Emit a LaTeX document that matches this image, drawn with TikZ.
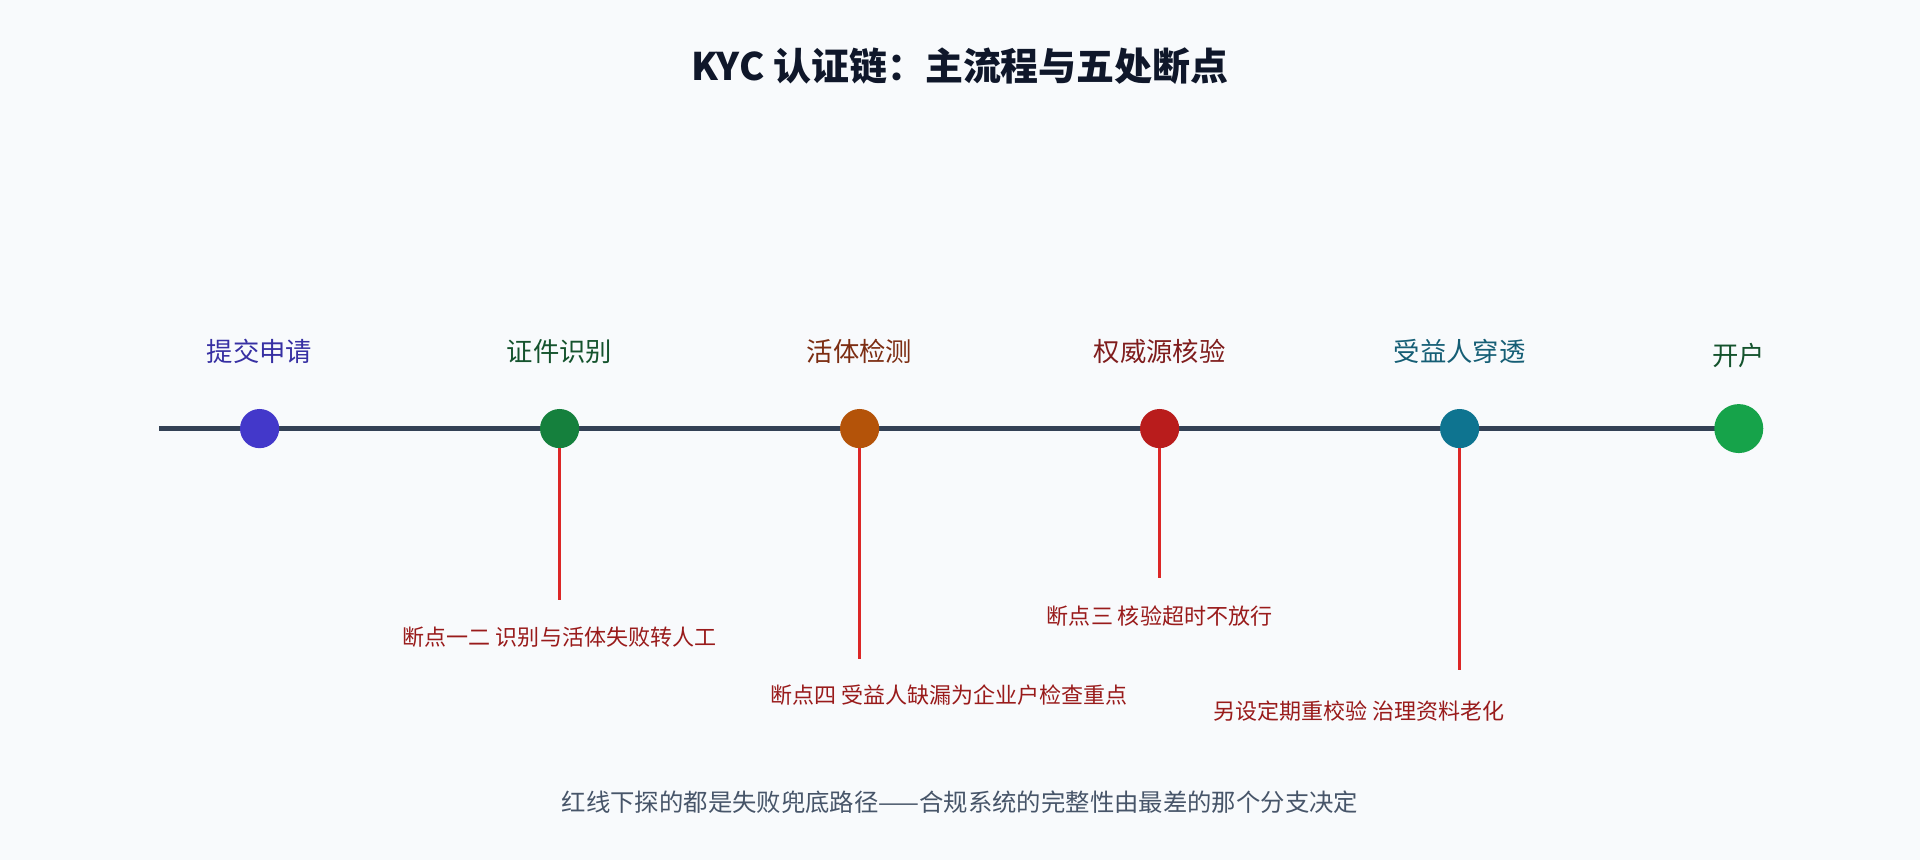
\documentclass[tikz,border=0pt]{standalone}
\usepackage{fontspec}
\setmainfont{Noto Sans CJK SC}
\begin{document}
\begin{tikzpicture}[x=1pt,y=-1pt,
  stage/.style={font=\fontsize{21.5}{24}\selectfont},
  brk/.style={font=\fontsize{18}{21}\selectfont, text=brkc},
  drop/.style={draw=dropc, line width=2.6pt},
  dot/.style={circle, inner sep=0pt, minimum size=32pt}]
\definecolor{bg}{HTML}{F8FAFC}
\definecolor{linec}{HTML}{334155}
\definecolor{dropc}{HTML}{DC2626}
\definecolor{brkc}{HTML}{991B1B}
\definecolor{c1}{HTML}{4338CA}\definecolor{c2}{HTML}{15803D}\definecolor{c3}{HTML}{B45309}
\definecolor{c4}{HTML}{B91C1C}\definecolor{c5}{HTML}{0E7490}\definecolor{c6}{HTML}{16A34A}
\fill[bg] (0,0) rectangle (1568,702);
\useasboundingbox (0,0) rectangle (1568,702);
\node[font=\fontsize{31}{35}\selectfont\bfseries] (title) at (784,54) {\textcolor[HTML]{0F172A}{KYC 认证链：主流程与五处断点}};
\coordinate (ls) at (130,350); \coordinate (le) at (1420,350);
\draw[linec, line width=3.5pt] (ls) -- (le);
\coordinate (e2) at (457,490); \coordinate (e3) at (702,538);
\coordinate (e4) at (947,472); \coordinate (e5) at (1192,547);
\node[dot, fill=c1] (n1) at (212,350) {};
\node[dot, fill=c2] (n2) at (457,350) {};
\node[dot, fill=c3] (n3) at (702,350) {};
\node[dot, fill=c4] (n4) at (947,350) {};
\node[dot, fill=c5] (n5) at (1192,350) {};
\node[dot, fill=c6, minimum size=40pt] (n6) at (1420,350) {};
\draw[drop] (n2.south) -- (e2);
\draw[drop] (n3.south) -- (e3);
\draw[drop] (n4.south) -- (e4);
\draw[drop] (n5.south) -- (e5);
\node[stage] (l1) at (212,287) {\textcolor[HTML]{3730A3}{提交申请}};
\node[stage] (l2) at (457,287) {\textcolor[HTML]{14532D}{证件识别}};
\node[stage] (l3) at (702,287) {\textcolor[HTML]{7C2D12}{活体检测}};
\node[stage] (l4) at (947,287) {\textcolor[HTML]{7F1D1D}{权威源核验}};
\node[stage] (l5) at (1192,287) {\textcolor[HTML]{155E75}{受益人穿透}};
\node[stage] (l6) at (1420,290) {\textcolor[HTML]{14532D}{开户}};
\node[brk] (b1) at (457,520) {断点一二 识别与活体失败转人工};
\node[brk] (b2) at (775,568) {断点四 受益人缺漏为企业户检查重点};
\node[brk] (b3) at (947,503) {断点三 核验超时不放行};
\node[brk] (b4) at (1110,581) {另设定期重校验 治理资料老化};
\node[font=\fontsize{19.9}{23}\selectfont] (foot) at (784,655) {\textcolor[HTML]{475569}{红线下探的都是失败兜底路径——合规系统的完整性由最差的那个分支决定}};
\end{tikzpicture}
\end{document}
